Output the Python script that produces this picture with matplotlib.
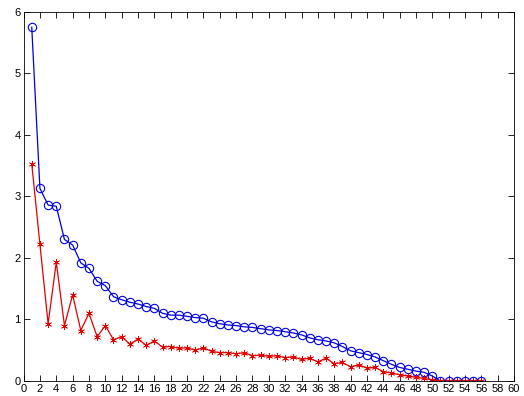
import numpy as np
import matplotlib
matplotlib.use('Agg')
import matplotlib.pyplot as plt

# component index
idx = np.arange(1, 57)

# blue series (circles)
blue_vals = [5.75, 3.13, 2.86, 2.84, 2.30, 2.21, 1.92, 1.83, 1.62, 1.55,
             1.37, 1.32, 1.28, 1.25, 1.21, 1.18, 1.10, 1.07, 1.07, 1.05,
             1.03, 1.02, 0.96, 0.93, 0.91, 0.90, 0.88, 0.87, 0.85, 0.83,
             0.82, 0.80, 0.78, 0.75, 0.70, 0.67, 0.65, 0.62, 0.56, 0.49,
             0.46, 0.43, 0.39, 0.33, 0.27, 0.22, 0.19, 0.16, 0.14, 0.08,
             0.0, 0.0, 0.0, 0.0, 0.0, 0.0]

# red series (asterisks)
red_vals = [3.53, 2.22, 0.93, 1.93, 0.90, 1.40, 0.82, 1.10, 0.72, 0.90,
            0.67, 0.72, 0.60, 0.68, 0.58, 0.65, 0.55, 0.56, 0.53, 0.54,
            0.50, 0.54, 0.48, 0.46, 0.46, 0.44, 0.46, 0.41, 0.42, 0.40,
            0.41, 0.38, 0.39, 0.35, 0.37, 0.31, 0.37, 0.28, 0.30, 0.23,
            0.26, 0.21, 0.22, 0.15, 0.13, 0.10, 0.08, 0.06, 0.04, 0.02,
            0.0, 0.0, 0.0, 0.0, 0.0, 0.0]

plt.rcParams['font.family'] = ['Liberation Sans', 'DejaVu Sans']

fig = plt.figure(figsize=(5.24, 3.96), dpi=100)
ax = fig.add_axes([0.045, 0.038, 0.936, 0.932])

ax.plot(idx, blue_vals, color='#0000e0', marker='o', ms=6, mfc='none',
        mew=0.8, lw=0.9)
ax.plot(idx, red_vals, color='#e00000', marker=(6, 2, 0), ms=5,
        mew=0.5, lw=0.9)

ax.set_xlim(0, 60)
ax.set_ylim(0, 6)
ax.set_xticks(np.arange(0, 61, 2))
ax.set_yticks(np.arange(0, 7, 1))
ax.tick_params(direction='in', top=True, right=True, labelsize=8,
               length=4, width=0.6, pad=2)
for s in ax.spines.values():
    s.set_linewidth(0.6)

fig.savefig('out.png', dpi=100)
